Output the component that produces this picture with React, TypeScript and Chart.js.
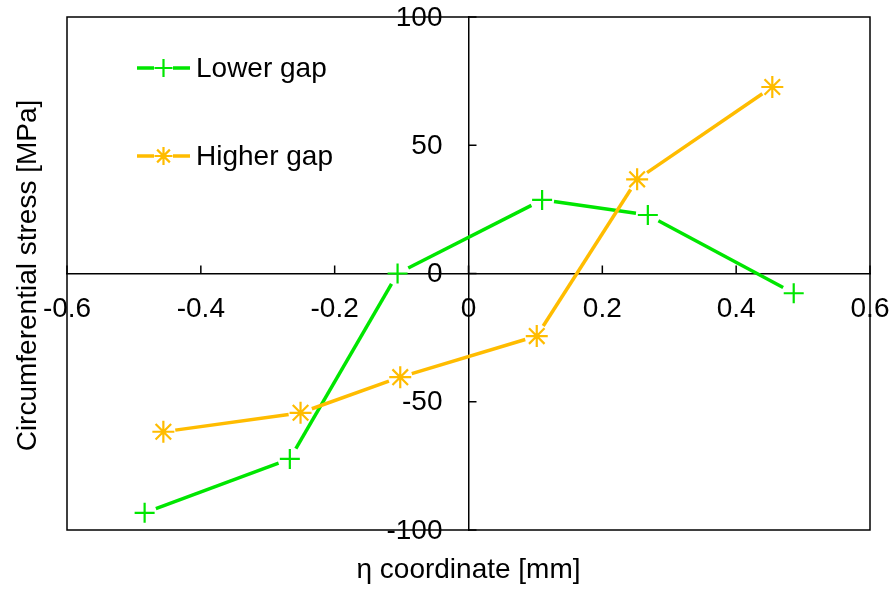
import React, { useEffect, useRef } from "react";
import { Chart, registerables } from "chart.js";

Chart.register(...registerables);

const seriesNames = ["Lower gap", "Higher gap"];
const lowerX = [-0.484, -0.267, -0.106, 0.11, 0.268, 0.486];
const lowerY = [-93.3, -72.3, 0, 28.7, 22.8, -7.7];
const higherX = [-0.456, -0.251, -0.102, 0.102, 0.252, 0.454];
const higherY = [-61.7, -54.3, -40.4, -24.4, 36.7, 72.7];
const xTitle = "η coordinate [mm]";
const yTitle = "Circumferential stress [MPa]";

const GREEN = "#00E600";
const ORANGE = "#FFBC00";
const FONT = "'Liberation Sans', Arial, sans-serif";

function drawMarker(ctx: CanvasRenderingContext2D, style: string, x: number, y: number, r: number) {
  ctx.beginPath();
  ctx.moveTo(x - r, y);
  ctx.lineTo(x + r, y);
  ctx.moveTo(x, y - r);
  ctx.lineTo(x, y + r);
  if (style === "star") {
    const d = r * Math.SQRT1_2;
    ctx.moveTo(x - d, y - d);
    ctx.lineTo(x + d, y + d);
    ctx.moveTo(x - d, y + d);
    ctx.lineTo(x + d, y - d);
  }
  ctx.stroke();
}

const gapLinePlugin = {
  id: "gapLines",
  beforeDatasetsDraw(chart: any) {
    const ctx = chart.ctx as CanvasRenderingContext2D;
    const gap = 12;
    const n = chart.data.datasets.length;
    for (let di = n - 1; di >= 0; di--) {
      const ds = chart.data.datasets[di];
      const meta = chart.getDatasetMeta(di);
      ctx.save();
      ctx.strokeStyle = ds.borderColor;
      ctx.lineWidth = 3.5;
      ctx.lineCap = "butt";
      for (let i = 0; i < meta.data.length - 1; i++) {
        const a = meta.data[i];
        const b = meta.data[i + 1];
        const dx = b.x - a.x;
        const dy = b.y - a.y;
        const len = Math.hypot(dx, dy);
        if (len <= 2 * gap) continue;
        const ux = dx / len;
        const uy = dy / len;
        ctx.beginPath();
        ctx.moveTo(a.x + ux * gap, a.y + uy * gap);
        ctx.lineTo(b.x - ux * gap, b.y - uy * gap);
        ctx.stroke();
      }
      ctx.restore();
    }
  },
};

const decorPlugin = {
  id: "decor",
  afterDraw(chart: any) {
    const ctx = chart.ctx as CanvasRenderingContext2D;
    const { left, right, top, bottom } = chart.chartArea;
    const xs = chart.scales.x;
    const ys = chart.scales.y;
    ctx.save();
    // frame
    ctx.strokeStyle = "#000";
    ctx.lineWidth = 1.5;
    ctx.strokeRect(left, top, right - left, bottom - top);
    // tick marks
    const y0 = ys.getPixelForValue(0);
    const x0 = xs.getPixelForValue(0);
    ctx.beginPath();
    xs.ticks.forEach((t: any) => {
      const px = xs.getPixelForValue(t.value);
      ctx.moveTo(px, y0);
      ctx.lineTo(px, y0 - 8);
    });
    ys.ticks.forEach((t: any) => {
      const py = ys.getPixelForValue(t.value);
      ctx.moveTo(x0, py);
      ctx.lineTo(x0 + 8, py);
    });
    ctx.stroke();
    // y tick labels (left of the centred y axis)
    ctx.fillStyle = "#000";
    ctx.font = `28px ${FONT}`;
    ctx.textAlign = "right";
    ctx.textBaseline = "middle";
    ys.ticks.forEach((t: any) => {
      const py = ys.getPixelForValue(t.value);
      ctx.fillText(t.label, x0 - 26, py + 1);
    });
    // axis titles
    ctx.textAlign = "center";
    ctx.fillText(xTitle, (left + right) / 2, 570);
    ctx.save();
    ctx.translate(28, (top + bottom) / 2 + 2);
    ctx.rotate(-Math.PI / 2);
    ctx.fillText(yTitle, 0, 0);
    ctx.restore();
    // legend
    const rows = [68, 156];
    chart.data.datasets.forEach((ds: any) => {
      const y = rows[seriesNames.indexOf(ds.label)];
      ctx.strokeStyle = ds.borderColor;
      ctx.lineWidth = 3.5;
      ctx.beginPath();
      ctx.moveTo(137, y);
      ctx.lineTo(154, y);
      ctx.moveTo(173, y);
      ctx.lineTo(190, y);
      ctx.stroke();
      ctx.lineWidth = 2.2;
      drawMarker(ctx, ds.pointStyle, 163.5, y, 9);
      ctx.fillStyle = "#000";
      ctx.textAlign = "left";
      ctx.textBaseline = "middle";
      ctx.font = `28px ${FONT}`;
      ctx.fillText(ds.label, 196, y + 1);
    });
    ctx.restore();
  },
};

function noPad(scale: any) {
  scale.paddingTop = 0;
  scale.paddingBottom = 0;
  scale.paddingLeft = 0;
  scale.paddingRight = 0;
}

export default function App() {
  const ref = useRef<HTMLCanvasElement | null>(null);
  useEffect(() => {
    document.body.style.margin = "0";
    if (!ref.current) return;
    const chart = new Chart(ref.current, {
      type: "scatter",
      data: {
        datasets: [
          {
            label: seriesNames[1],
            data: higherX.map((x, i) => ({ x, y: higherY[i] })),
            borderColor: ORANGE,
            backgroundColor: ORANGE,
            pointStyle: "star",
            pointRadius: 11,
            pointBorderWidth: 2.2,
            pointBorderColor: ORANGE,
            showLine: false,
          },
          {
            label: seriesNames[0],
            data: lowerX.map((x, i) => ({ x, y: lowerY[i] })),
            borderColor: GREEN,
            backgroundColor: GREEN,
            pointStyle: "cross",
            pointRadius: 10,
            pointBorderWidth: 2.2,
            pointBorderColor: GREEN,
            showLine: false,
          },
        ],
      },
      options: {
        responsive: false,
        animation: false,
        layout: { padding: { left: 67, right: 23, top: 17, bottom: 60 } },
        plugins: { legend: { display: false }, tooltip: { enabled: false } },
        scales: {
          x: {
            type: "linear",
            position: { y: 0 } as any,
            min: -0.6,
            max: 0.6,
            afterFit: noPad,
            ticks: { stepSize: 0.2, color: "#000", font: { family: FONT, size: 28 }, padding: 19, maxRotation: 0, autoSkip: false },
            grid: { display: false, drawTicks: false, drawOnChartArea: false },
            border: { display: true, color: "#000", width: 1.5 },
          },
          y: {
            type: "linear",
            position: { x: 0 } as any,
            min: -100,
            max: 100,
            afterFit: noPad,
            ticks: { stepSize: 50, display: false, font: { family: FONT, size: 28 } },
            grid: { display: false, drawTicks: false, drawOnChartArea: false },
            border: { display: true, color: "#000", width: 1.5 },
          },
        },
      },
      plugins: [gapLinePlugin, decorPlugin],
    });
    return () => chart.destroy();
  }, []);
  return <canvas ref={ref} width={893} height={590} style={{ display: "block" }} />;
}
